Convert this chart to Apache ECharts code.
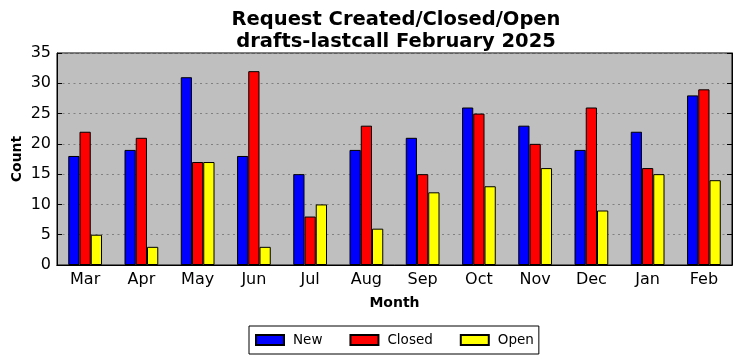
<!DOCTYPE html>
<html><head><meta charset="utf-8">
<script src="https://cdn.jsdelivr.net/npm/echarts@6/dist/echarts.min.js"></script>
<style>html,body{margin:0;padding:0;background:#fff}#c{width:742px;height:361px}</style>
</head><body><div id="c"></div>
<script>
const months = ['Mar','Apr','May','Jun','Jul','Aug','Sep','Oct','Nov','Dec','Jan','Feb'];
const newVals = [18,19,31,18,15,19,21,26,23,19,22,28];
const closedVals = [22,21,17,32,8,23,15,25,20,26,16,29];
const openVals = [5,3,17,3,10,6,12,13,16,9,15,14];
const yTicks = {min:0, max:35, interval:5};

const font = 'DejaVu Sans';
const chart = echarts.init(document.getElementById('c'), null, {renderer:'canvas'});
const barStyle = c => ({color:c, borderColor:'#000', borderWidth:1});
chart.setOption({
  animation:false,
  textStyle:{fontFamily:font},
  title:{text:'Request Created/Closed/Open\ndrafts-lastcall February 2025', left:391, textAlign:'center', top:4,
    textStyle:{fontFamily:font, fontSize:19.5, fontWeight:'bold', color:'#000', lineHeight:22}},
  legend:{data:['New','Closed','Open'], icon:'rect', left:249, top:326, padding:[7,5,7,6], itemGap:27, itemWidth:28, itemHeight:10,
    borderColor:'#000', borderWidth:1, borderRadius:0, backgroundColor:'#fff',
    textStyle:{fontFamily:font, fontSize:13.5, color:'#000', padding:[0,0,0,4]}},
  grid:{left:57, right:10, top:53, bottom:96, outerBoundsMode:'none', containLabel:false, show:true, backgroundColor:'#bfbfbf', borderColor:'#000', borderWidth:1},
  xAxis:[{type:'category', data:months, name:'Month', nameLocation:'middle', nameGap:31, nameMoveOverlap:false,
    nameTextStyle:{fontFamily:font, fontSize:14, fontWeight:'bold', color:'#000'},
    axisLine:{lineStyle:{color:'#000'}}, axisTick:{alignWithLabel:true, inside:true, length:5, lineStyle:{color:'#000'}},
    axisLabel:{fontFamily:font, fontSize:16, color:'#000', margin:7}},
    {type:'category', data:months, position:'top', axisLine:{lineStyle:{color:'#000'}},
    axisTick:{alignWithLabel:true, inside:true, length:5, lineStyle:{color:'#000'}}, axisLabel:{show:false}}],
  yAxis:[{type:'value', min:yTicks.min, max:yTicks.max, interval:yTicks.interval, name:'Count', nameLocation:'middle', nameGap:33, nameMoveOverlap:false,
    nameTextStyle:{fontFamily:font, fontSize:14, fontWeight:'bold', color:'#000'},
    axisLine:{show:true, lineStyle:{color:'#000'}}, axisTick:{show:true, inside:true, length:5, lineStyle:{color:'#000'}},
    axisLabel:{fontFamily:font, fontSize:16, color:'#000', margin:6},
    splitLine:{show:true, lineStyle:{color:'#808080', type:[2,3.5], width:1}}},
    {type:'value', min:yTicks.min, max:yTicks.max, interval:yTicks.interval, position:'right',
    axisLine:{show:true, lineStyle:{color:'#000'}}, axisTick:{show:true, inside:true, length:5, lineStyle:{color:'#000'}},
    axisLabel:{show:false}, splitLine:{show:false}}],
  series:[
    {name:'New', type:'bar', data:newVals, barWidth:'20%', barGap:'0%', itemStyle:barStyle('#0000ff')},
    {name:'Closed', type:'bar', data:closedVals, barWidth:'20%', barGap:'0%', itemStyle:barStyle('#ff0000')},
    {name:'Open', type:'bar', data:openVals, barWidth:'20%', barGap:'0%', itemStyle:barStyle('#ffff00')}
  ]
});
</script></body></html>
